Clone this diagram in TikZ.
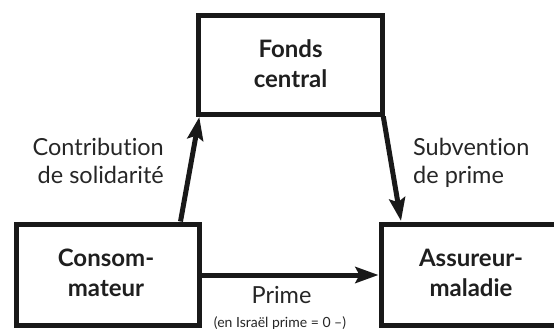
\documentclass[tikz,border=0pt]{standalone}
\usepackage{fontspec}
\setmainfont{Lato}[Ligatures={NoCommon}]
\usetikzlibrary{arrows.meta}
\begin{document}
\begin{tikzpicture}[x=1pt,y=-1pt,
  boxline/.style={draw=black!90,line width=5pt},
  boxtext/.style={font=\fontsize{24}{30}\selectfont\bfseries,align=center,text=black!88,anchor=base,inner sep=0pt},
  lbl/.style={font=\fontsize{23.5}{28.3}\selectfont,text=black!85,inner sep=0pt},
  flow/.style={draw=black!90,line width=5pt,-{Stealth[length=23pt,width=16pt,inset=4pt]}}]
\useasboundingbox (0,0) rectangle (554,329);
\draw[boxline] (198.6,15.7) rectangle (382.5,114.2);
\draw[boxline] (16.5,224) rectangle (199,325);
\draw[boxline] (381,224) rectangle (580,325);
\node[boxtext] (fonds) at (290.5,87.3) {Fonds\\central};
\node[boxtext] (cons) at (106,296) {Consom-\\mateur};
\node[boxtext] (assu) at (471,296) {Assureur-\\maladie};
\coordinate (consTop) at (180.5,221.5);
\coordinate (fondsBL) at (199.3,117);
\coordinate (fondsBR) at (383.3,116.5);
\coordinate (assuTop) at (401,221);
\coordinate (consR) at (201.5,275);
\coordinate (assuL) at (378.5,275);
\draw[flow] (consTop) -- (fondsBL);
\draw[flow] (fondsBR) -- (assuTop);
\draw[flow] (consR) -- (assuL);
\node[lbl,align=right,anchor=base east] (contrib) at (164,183.3) {Contribution\\de solidarit\'e};
\node[lbl,align=left,anchor=base west] (subv) at (413,183.3) {Subvention\\de prime};
\node[lbl,anchor=base] (prime) at (281.5,303) {Prime};
\node[font=\fontsize{14}{16}\selectfont,text=black!85,anchor=base,inner sep=0pt] (isr) at (280,327) {(en Isra\"el prime = 0 –)};
\end{tikzpicture}
\end{document}
